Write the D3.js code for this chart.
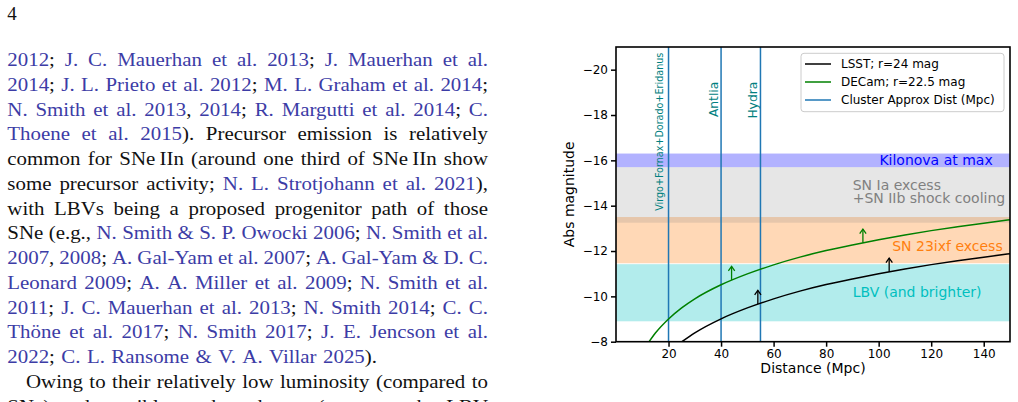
<!DOCTYPE html>
<html>
<head>
<meta charset="utf-8">
<script src="https://cdn.jsdelivr.net/npm/d3@7"></script>
<style>
  body { margin: 0; background: #fff; }
  svg { display: block; }
</style>
</head>
<body>
<svg width="1018" height="402"></svg>
<script>
// detection limits (distance in Mpc, abs mag)
var decamDist = [12.6, 15, 20, 25, 30, 40, 50, 60, 70, 80, 90, 100, 110, 120, 130, 140, 150];
var decamMag  = [-8.0, -8.38, -9.0, -9.49, -9.89, -10.51, -10.99, -11.39, -11.73, -12.02, -12.27, -12.5, -12.71, -12.9, -13.07, -13.23, -13.38];
var lsstDist = [25.1, 30, 40, 50, 60, 70, 80, 90, 100, 110, 120, 130, 140, 150];
var lsstMag  = [-8.0, -8.39, -9.01, -9.49, -9.89, -10.23, -10.52, -10.77, -11.0, -11.21, -11.4, -11.57, -11.73, -11.88];

// arrows: [distance, magnitude on curve]
var decamArrows = [[44, -10.72], [94, -12.37]];
var lsstArrows = [[54, -9.66], [104, -11.09]];

var clusterNames = ["Virgo+Fornax+Dorado+Eridanus", "Antlia", "Hydra"];
var clusterDist = [20, 40, 55];

// bands [top mag, bottom mag]
var bandNames = ["SN 23ixf excess", "LBV (and brighter)", "SN Ia excess", "Kilonova at max"];
var bandTop = [-13.5, -11.42, -15.7, -16.3];
var bandBottom = [-11.46, -8.9, -13.25, -15.7];

var xTicks = [20, 40, 60, 80, 100, 120, 140];
var yTicks = [-20, -18, -16, -14, -12, -10, -8];

var legendLabels = ["LSST; r=24 mag", "DECam; r=22.5 mag", "Cluster Approx Dist (Mpc)"];

// text column of the page ({...} = citation link)
var pageLines = [
    "{2012}; {J. C. Mauerhan et al. 2013}; {J. Mauerhan et al.}",
    "{2014}; {J. L. Prieto et al. 2012}; {M. L. Graham et al. 2014};",
    "{N. Smith et al. 2013}, {2014}; {R. Margutti et al. 2014}; {C.}",
    "{Thoene et al. 2015}). Precursor emission is relatively",
    "common for SNe\u2009IIn (around one third of SNe\u2009IIn show",
    "some precursor activity; {N. L. Strotjohann et al. 2021}),",
    "with LBVs being a proposed progenitor path of those",
    "SNe (e.g., {N. Smith & S. P. Owocki 2006}; {N. Smith et al.}",
    "{2007}, {2008}; {A. Gal-Yam et al. 2007}; {A. Gal-Yam & D. C.}",
    "{Leonard 2009}; {A. A. Miller et al. 2009}; {N. Smith et al.}",
    "{2011}; {J. C. Mauerhan et al. 2013}; {N. Smith 2014}; {C. C.}",
    "{Thöne et al. 2017}; {N. Smith 2017}; {J. E. Jencson et al.}",
    "{2022}; {C. L. Ransome & V. A. Villar 2025}).",
    "Owing to their relatively low luminosity (compared to",
    "SNe) and possible weak outbursts (see, e.g., the LBV"
];
var lineLeft = [7.3, 7.3, 7.3, 7.3, 7.3, 7.3, 7.3, 7.3, 7.3, 7.3, 7.3, 7.3, 7.3, 26, 7.3];
var lineRight = [488, 488, 488, 488, 488, 488, 488, 488, 488, 488, 488, 488, 377, 488, 488];

var svg = d3.select("svg");
var linkColor = "#3c3ca6";
var wordStretch = 1.1;   // Liberation Serif is narrower than CM

svg.append("text")
    .attr("x", 7.3).attr("y", 20)
    .attr("font-family", "Liberation Serif").attr("font-size", 19)
    .attr("fill", "#111").text("4");

function drawLine(str, x0, x1, yb) {
    var words = [], cur = [], link = false, run = null;
    for (var i = 0; i < str.length; i++) {
        var c = str[i];
        if (c == "{") { link = true; run = null; continue; }
        if (c == "}") { link = false; run = null; continue; }
        if (c == " ") {
            if (cur.length) words.push(cur);
            cur = []; run = null;
            continue;
        }
        if (!run || run.link != link) {
            run = {t: "", link: link};
            cur.push(run);
        }
        run.t += c;
    }
    if (cur.length) words.push(cur);

    var g = svg.append("g")
        .attr("font-family", "Liberation Serif")
        .attr("font-size", 19);
    var nodes = [], total = 0;
    words.forEach(function(w) {
        var t = g.append("text").attr("y", yb);
        w.forEach(function(r) {
            t.append("tspan").attr("fill", r.link ? linkColor : "#111").text(r.t);
        });
        var len = t.node().getComputedTextLength() * wordStretch;
        t.attr("textLength", len).attr("lengthAdjust", "spacingAndGlyphs");
        total += len;
        nodes.push([t, len]);
    });
    var gap = (x1 - x0 - total) / (nodes.length - 1);
    var pos = x0;
    nodes.forEach(function(n) {
        n[0].attr("x", pos);
        pos += n[1] + gap;
    });
}

for (var i = 0; i < pageLines.length; i++)
    drawLine(pageLines[i], lineLeft[i], lineRight[i], 66 + 24.75 * i);

// ---- chart ----
var plotL = 616, plotR = 1010, plotT = 47, plotB = 341.7;
var x = d3.scaleLinear().domain([0, 150]).range([plotL, plotR]);
var y = d3.scaleLinear().domain([-21, -8]).range([plotT, plotB]);

svg.append("clipPath").attr("id", "clip")
    .append("rect")
    .attr("x", plotL).attr("y", plotT)
    .attr("width", plotR - plotL).attr("height", plotB - plotT);

var plot = svg.append("g").attr("clip-path", "url(#clip)");

var bandColors = ["#ff7f0e", "#00bfbf", "#808080", "#0000ff"];
var bandAlpha = [0.3, 0.3, 0.2, 0.3];
for (var i = 0; i < bandNames.length; i++) {
    plot.append("rect")
        .attr("x", plotL).attr("width", plotR - plotL)
        .attr("y", y(bandTop[i]))
        .attr("height", y(bandBottom[i]) - y(bandTop[i]))
        .attr("fill", bandColors[i])
        .attr("fill-opacity", bandAlpha[i]);
}

// band labels
var bandText = svg.append("g").attr("font-family", "DejaVu Sans").attr("font-size", 14);
bandText.append("text").attr("x", 992.7).attr("y", 164.7)
    .attr("text-anchor", "end").attr("fill", "#0000ff").text(bandNames[3]);
bandText.append("text").attr("x", 852.7).attr("y", 190.3)
    .attr("fill", "#808080").text(bandNames[2]);
bandText.append("text").attr("x", 852.7).attr("y", 203)
    .attr("fill", "#808080").text("+SN IIb shock cooling");
bandText.append("text").attr("x", 1002.7).attr("y", 250.7)
    .attr("text-anchor", "end").attr("fill", "#ff7f0e").text(bandNames[0]);
bandText.append("text").attr("x", 852.7).attr("y", 296.5)
    .attr("fill", "#00bfbf").text(bandNames[1]);

// cluster lines
clusterDist.forEach(function(d) {
    plot.append("line")
        .attr("x1", x(d)).attr("x2", x(d))
        .attr("y1", plotT).attr("y2", plotB)
        .attr("stroke", "#1f77b4").attr("stroke-width", 1.5);
});

var labelX = [662.5, 717.5, 756.5];
var labelTop = [52.7, 81.7, 81.7];
var labelSize = [9.6, 12.3, 12.3];
for (var i = 0; i < clusterNames.length; i++) {
    svg.append("text")
        .attr("transform", "translate(" + labelX[i] + "," + labelTop[i] + ") rotate(-90)")
        .attr("text-anchor", "end")
        .attr("font-family", "DejaVu Sans")
        .attr("font-size", labelSize[i])
        .attr("fill", "#008080")
        .text(clusterNames[i]);
}

// limit curves
var line = d3.line()
    .x(function(d) { return x(d[0]); })
    .y(function(d) { return y(d[1]); })
    .curve(d3.curveMonotoneX);

plot.append("path")
    .attr("d", line(d3.zip(lsstDist, lsstMag)))
    .attr("fill", "none").attr("stroke", "#000").attr("stroke-width", 1.5);
plot.append("path")
    .attr("d", line(d3.zip(decamDist, decamMag)))
    .attr("fill", "none").attr("stroke", "#008000").attr("stroke-width", 1.5);

function arrow(a, color) {
    var ax = x(a[0]), y0 = y(a[1]), y1 = y(a[1] - 0.6);
    plot.append("line")
        .attr("x1", ax).attr("x2", ax).attr("y1", y0).attr("y2", y1)
        .attr("stroke", color).attr("stroke-width", 1.3);
    plot.append("path")
        .attr("d", "M" + (ax - 3.2) + "," + (y1 + 4.5) + "L" + ax + "," + y1 + "L" + (ax + 3.2) + "," + (y1 + 4.5))
        .attr("fill", "none").attr("stroke", color).attr("stroke-width", 1.3);
}
decamArrows.forEach(function(a) { arrow(a, "#008000"); });
lsstArrows.forEach(function(a) { arrow(a, "#000"); });

// axes
var xAxis = svg.append("g")
    .attr("transform", "translate(0," + plotB + ")")
    .call(d3.axisBottom(x).tickValues(xTicks).tickSize(5).tickPadding(2.5));
var yAxis = svg.append("g")
    .attr("transform", "translate(" + plotL + ",0)")
    .call(d3.axisLeft(y).tickValues(yTicks).tickSize(5).tickPadding(3));
[xAxis, yAxis].forEach(function(a) {
    a.select(".domain").remove();
    a.selectAll(".tick line").attr("stroke", "#000").attr("stroke-width", 1.5);
    a.selectAll(".tick text")
        .attr("font-family", "DejaVu Sans").attr("font-size", 12).attr("fill", "#000");
});

svg.append("rect")
    .attr("x", plotL).attr("y", plotT)
    .attr("width", plotR - plotL).attr("height", plotB - plotT)
    .attr("fill", "none").attr("stroke", "#000").attr("stroke-width", 1.6);

svg.append("text")
    .attr("x", (plotL + plotR) / 2).attr("y", 373.3)
    .attr("text-anchor", "middle")
    .attr("font-family", "DejaVu Sans").attr("font-size", 14)
    .text("Distance (Mpc)");
svg.append("text")
    .attr("transform", "translate(574," + (plotT + plotB) / 2 + ") rotate(-90)")
    .attr("text-anchor", "middle")
    .attr("font-family", "DejaVu Sans").attr("font-size", 14)
    .text("Abs magnitude");

// legend
var legend = svg.append("g");
legend.append("rect")
    .attr("x", 801).attr("y", 53.3).attr("width", 203).attr("height", 58.4)
    .attr("rx", 3)
    .attr("fill", "#fff").attr("fill-opacity", 0.8)
    .attr("stroke", "#cccccc").attr("stroke-width", 1);
var legendColors = ["#000", "#008000", "#1f77b4"];
legendLabels.forEach(function(l, i) {
    var ly = 64 + 18 * i;
    legend.append("line")
        .attr("x1", 805).attr("x2", 831).attr("y1", ly).attr("y2", ly)
        .attr("stroke", legendColors[i]).attr("stroke-width", 1.5);
    legend.append("text")
        .attr("x", 841).attr("y", ly + 4.3)
        .attr("font-family", "DejaVu Sans").attr("font-size", 12)
        .text(l);
});
</script>
</body>
</html>
